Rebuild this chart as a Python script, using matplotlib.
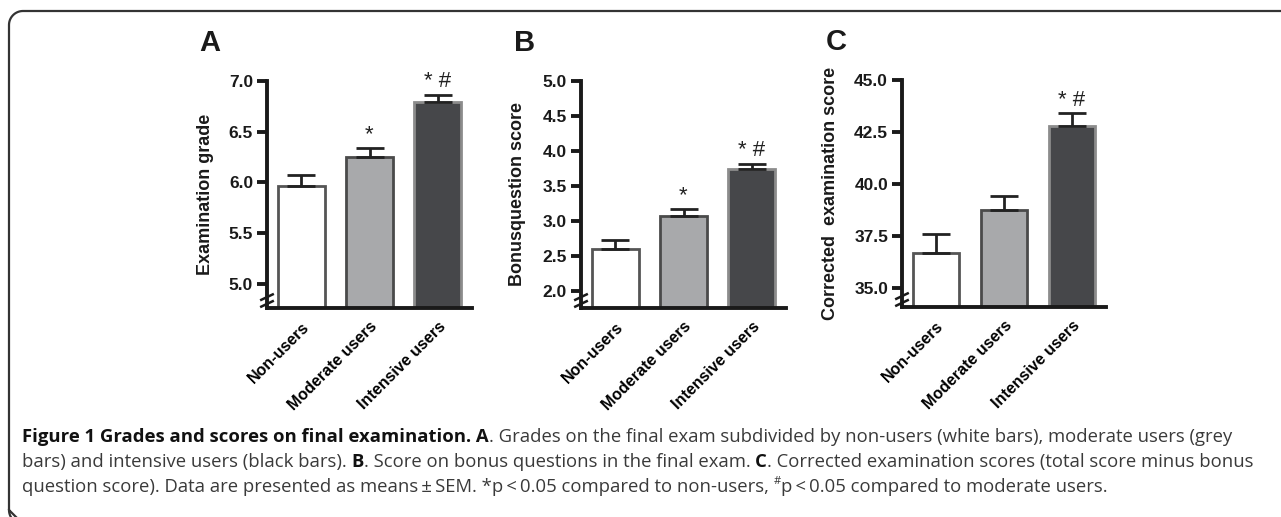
import numpy as np
import matplotlib
matplotlib.use("Agg")
import matplotlib.pyplot as plt
from matplotlib.transforms import IdentityTransform

# data (means +- SEM)
groups = ["Non-users", "Moderate users", "Intensive users"]

grade_mean = [5.96, 6.25, 6.79]
grade_sem = [0.11, 0.09, 0.07]
grade_sig = ["", "*", "*#"]

bonus_mean = [2.60, 3.07, 3.74]
bonus_sem = [0.13, 0.11, 0.08]
bonus_sig = ["", "*", "*#"]

corr_mean = [36.68, 38.76, 42.79]
corr_sem = [0.91, 0.67, 0.61]
corr_sig = ["", "", "*#"]

W, H = 1281, 517
fig = plt.figure(figsize=(W / 100, H / 100), dpi=100)

bar_face = ["white", "#a8a9ab", "#46474a"]
bar_edge = ["#555555", "#4a4a4a", "#8c8c8c"]
lab_font = "Liberation Sans"


def px_axes(left, right, top, bottom):
    return fig.add_axes([left / W, 1 - bottom / H, (right - left) / W, (bottom - top) / H])


def panel(ax, means, sems, sig, ylim, ticks, fmt, ylabel, lab_x):
    x = np.arange(len(groups))
    ax.bar(x, means, width=0.69, color=bar_face, edgecolor=bar_edge, linewidth=2, zorder=2)
    ax.errorbar(x, means, yerr=[np.zeros(len(sems)), sems], fmt="none", ecolor="#222222",
                elinewidth=2, capsize=10, capthick=2, zorder=3)
    for xi, m, s, t in zip(x, means, sems, sig):
        if t:
            ax.annotate(t.replace("*#", "* #"), (xi, m + s), xytext=(0, 2), textcoords="offset points",
                        ha="center", va="bottom", fontsize=16, family=lab_font, color="#222222",
                        annotation_clip=False)
    ax.set_xlim(-0.5, 2.5)
    ax.set_ylim(*ylim)
    ax.set_yticks(ticks)
    ax.set_yticklabels([fmt % t for t in ticks], fontsize=12.5, fontweight="bold", family=lab_font)
    ax.set_xticks(x)
    ax.set_xticklabels(groups, rotation=45, ha="right", rotation_mode="anchor",
                       fontsize=11.5, fontweight="bold", family=lab_font)
    ax.tick_params(axis="x", length=0, pad=8)
    ax.tick_params(axis="y", length=7, width=2.8, pad=3, color="#1a1a1a", labelcolor="#1a1a1a")
    for s in ["top", "right"]:
        ax.spines[s].set_visible(False)
    for s in ["left", "bottom"]:
        ax.spines[s].set_linewidth(2.8)
        ax.spines[s].set_color("#1a1a1a")
    ax.spines["left"].set_bounds(ylim[0], ticks[-1])
    ax.set_ylabel(ylabel, fontsize=13, fontweight="bold", family=lab_font, color="#1a1a1a")
    ax.yaxis.set_label_coords(lab_x, 0.5)
    # axis break marks
    for dy in (0.018, 0.048):
        ax.plot([-0.028, 0.028], [dy - 0.012, dy + 0.012], transform=ax.transAxes,
                color="#1a1a1a", lw=1.8, clip_on=False, zorder=5)


axA = px_axes(267, 472, 81, 308)
panel(axA, grade_mean, grade_sem, grade_sig, (4.76, 7.0), [5.0, 5.5, 6.0, 6.5, 7.0], "%.1f",
      "Examination grade", -0.26)
axB = px_axes(581, 786, 81, 308)
panel(axB, bonus_mean, bonus_sem, bonus_sig, (1.76, 5.0), [2.0, 2.5, 3.0, 3.5, 4.0, 4.5, 5.0], "%.1f",
      "Bonusquestion score", -0.27)
axC = px_axes(902, 1106, 80, 307)
panel(axC, corr_mean, corr_sem, corr_sig, (34.09, 45.0), [35.0, 37.5, 40.0, 42.5, 45.0], "%.1f",
      "Corrected  examination score", -0.31)

for lx, ly, s in [(199, 43, "A"), (514, 43, "B"), (826, 42, "C")]:
    fig.text(lx / W, 1 - ly / H, s, fontsize=21, fontweight="bold", family=lab_font,
             ha="left", va="center", color="#1a1a1a")

# rounded frame, open on the right
r = 14
x0, y0, y1 = 9, 11, 524
t = np.linspace(0, np.pi / 2, 20)
frame_x = [W + 5, x0 + r] + list(x0 + r - r * np.sin(t)) + [x0, x0] + list(x0 + r - r * np.cos(t[::-1]))
frame_y = [y0, y0] + list(y0 + r - r * np.cos(t)) + [y0 + r, y1 - r] + list(y1 - r + r * np.sin(t[::-1]))
fig.add_artist(plt.Line2D(np.array(frame_x) / W, 1 - np.array(frame_y) / H, transform=fig.transFigure,
                          color="#333333", lw=1.6))

# caption with mixed bold / regular runs
cap_font = "Open Sans"
cap_size = 13.3
fig.canvas.draw()
rend = fig.canvas.get_renderer()


def text_w(s, weight="normal", size=cap_size):
    tt = fig.text(0, 0, s, fontsize=size, fontweight=weight, family=cap_font, transform=IdentityTransform())
    w = tt.get_window_extent(rend).width
    tt.remove()
    return w


space_w = text_w("a a") - text_w("aa")

caption = [
    [("Figure 1 Grades and scores on final examination. A", "bold"),
     (". Grades on the final exam subdivided by non-users (white bars), moderate users (grey", "normal")],
    [("bars) and intensive users (black bars). ", "normal"), ("B", "bold"),
     (". Score on bonus questions in the final exam. ", "normal"), ("C", "bold"),
     (". Corrected examination scores (total score minus bonus", "normal")],
    [("question score). Data are presented as means\u2009\u00b1\u2009SEM. *p\u2009<\u20090.05 compared to non-users, ", "normal"),
     ("#", "sup"), ("p\u2009<\u20090.05 compared to moderate users.", "normal")],
]
line_y = [437, 462, 487]
for parts, ly in zip(caption, line_y):
    x = 22
    for s, w in parts:
        lead = len(s) - len(s.lstrip(" "))
        trail = len(s) - len(s.rstrip(" "))
        core = s.strip(" ")
        x += lead * space_w
        if w == "sup":
            fig.text(x, H - ly + 6, core, fontsize=cap_size * 0.6, family=cap_font, color="#333333",
                     va="center", ha="left", transform=IdentityTransform())
            x += text_w(core, size=cap_size * 0.6)
        else:
            fig.text(x, H - ly, core, fontsize=cap_size, fontweight=w, family=cap_font,
                     color="#111111" if w == "bold" else "#3a3a3a",
                     va="center", ha="left", transform=IdentityTransform())
            x += text_w(core, w)
        x += trail * space_w

fig.savefig("out.png", dpi=100)
